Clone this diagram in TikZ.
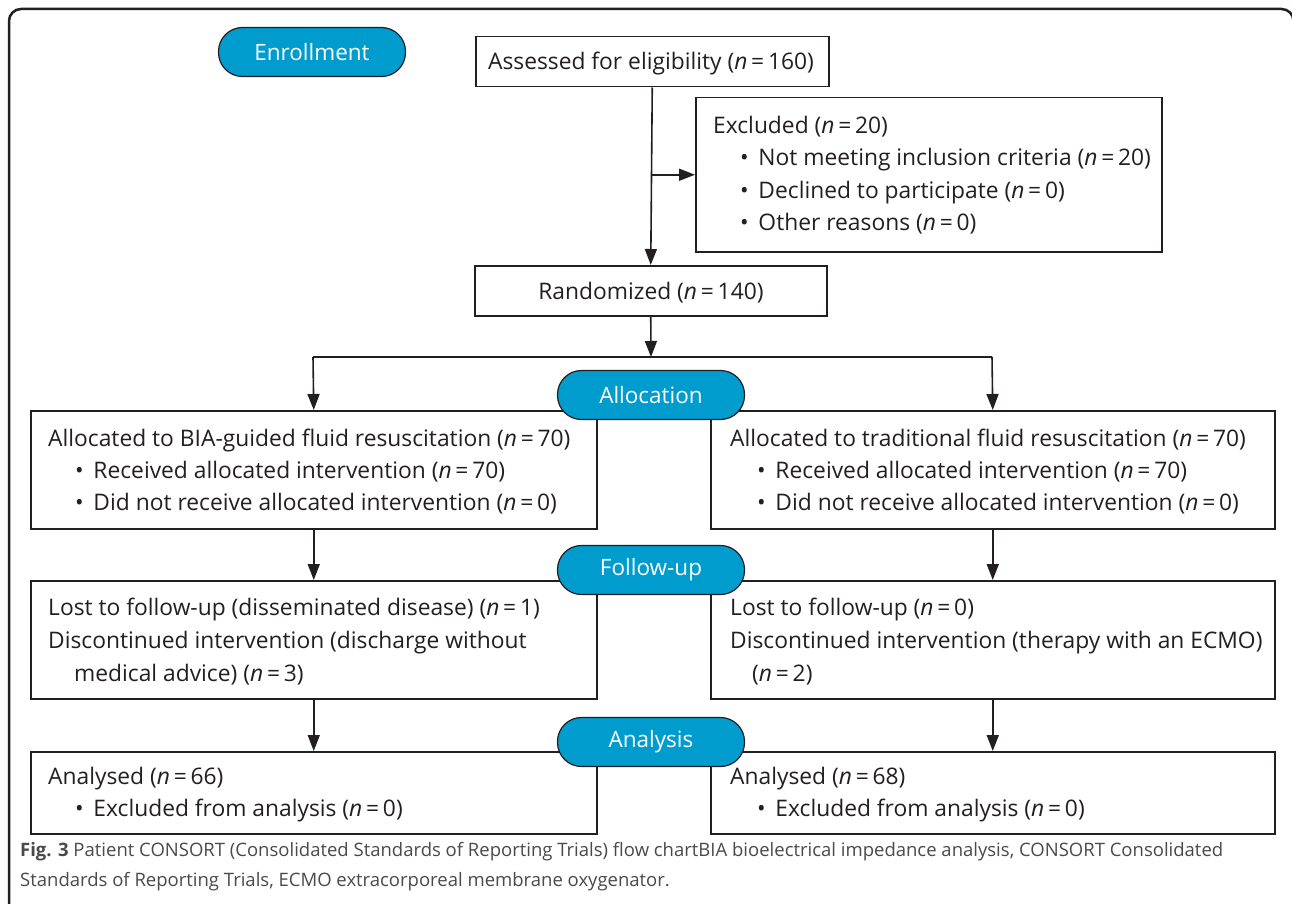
\documentclass[tikz,border=0pt]{standalone}
\usepackage{fontspec}
\setmainfont{Open Sans}
\usetikzlibrary{arrows.meta,calc}
\definecolor{ln}{HTML}{231F20}
\definecolor{pillc}{HTML}{009CCE}
\definecolor{capc}{HTML}{4A4A4A}
\begin{document}
\begin{tikzpicture}[x=1pt,y=-1pt,
  box/.style={draw=ln, line width=1.5pt, inner sep=0pt, anchor=north west},
  txt/.style={anchor=base west, inner sep=0pt, text=ln, font=\fontsize{22.8}{26}\selectfont},
  pillbox/.style={draw=ln, line width=1.2pt, fill=pillc, rounded corners=24pt,
    minimum width=187pt, minimum height=49pt, inner sep=0pt, text=white,
    font=\fontsize{22.5}{26}\selectfont},
  arr/.style={draw=ln, line width=1.6pt, -{Triangle[length=16pt,width=12pt]}},
  conn/.style={draw=ln, line width=1.6pt},
  captxt/.style={anchor=base west, inner sep=0pt, text=capc, font=\fontsize{18.5}{24}\selectfont}]
\useasboundingbox (0,0) rectangle (1292,904);
\clip (0,0) rectangle (1292,904);
\fill[white] (0,0) rectangle (1292,904);
% outer frame
\draw[ln, line width=2.5pt, rounded corners=12pt] (9,9) rectangle (1293.5,940);

% boxes
\node[box, minimum width=353pt, minimum height=50pt] (assess) at (475,36) {};
\node[box, minimum width=466pt, minimum height=154pt] (excl) at (695,97) {};
\node[box, minimum width=352pt, minimum height=50pt] (rand) at (474,265) {};
\node[box, minimum width=566pt, minimum height=118pt] (a1) at (30,410) {};
\node[box, minimum width=564pt, minimum height=118pt] (a2) at (710,410) {};
\node[box, minimum width=566pt, minimum height=118pt] (f1) at (30,580) {};
\node[box, minimum width=564pt, minimum height=118pt] (f2) at (710,580) {};
\node[box, minimum width=566pt, minimum height=82pt] (n1) at (30,751) {};
\node[box, minimum width=564pt, minimum height=82pt] (n2) at (710,751) {};

% texts
\node[txt, anchor=base] (tassess) at (651,70) {Assessed for eligibility (\textit{n}\,=\,160)};
\node[txt] (tex0) at (713,134) {Excluded (\textit{n}\,=\,20)};
\node[txt] (tex1) at (740,166) {•\, Not meeting inclusion criteria (\textit{n}\,=\,20)};
\node[txt] (tex2) at (740,198) {•\, Declined to participate (\textit{n}\,=\,0)};
\node[txt] (tex3) at (740,230) {•\, Other reasons (\textit{n}\,=\,0)};
\node[txt, anchor=base] (trand) at (651,299) {Randomized (\textit{n}\,=\,140)};

\node[txt] (ta10) at (48,446) {Allocated to BIA-guided fluid resuscitation (\textit{n}\,=\,70)};
\node[txt] (ta11) at (75,478) {•\, Received allocated intervention (\textit{n}\,=\,70)};
\node[txt] (ta12) at (75,510) {•\, Did not receive allocated intervention (\textit{n}\,=\,0)};
\node[txt] (ta20) at (730,446) {Allocated to traditional fluid resuscitation (\textit{n}\,=\,70)};
\node[txt] (ta21) at (757,478) {•\, Received allocated intervention (\textit{n}\,=\,70)};
\node[txt] (ta22) at (757,510) {•\, Did not receive allocated intervention (\textit{n}\,=\,0)};

\node[txt] (tf10) at (48,615) {Lost to follow-up (disseminated disease) (\textit{n}\,=\,1)};
\node[txt] (tf11) at (48,648) {Discontinued intervention (discharge without};
\node[txt] (tf12) at (74,681) {medical advice) (\textit{n}\,=\,3)};
\node[txt] (tf20) at (730,615) {Lost to follow-up (\textit{n}\,=\,0)};
\node[txt] (tf21) at (730,648) {Discontinued intervention (therapy with an ECMO)};
\node[txt] (tf22) at (752,681) {(\textit{n}\,=\,2)};

\node[txt] (tn10) at (48,784) {Analysed (\textit{n}\,=\,66)};
\node[txt] (tn11) at (75,816) {•\, Excluded from analysis (\textit{n}\,=\,0)};
\node[txt] (tn20) at (730,784) {Analysed (\textit{n}\,=\,68)};
\node[txt] (tn21) at (757,816) {•\, Excluded from analysis (\textit{n}\,=\,0)};

% connectors
\coordinate (split) at (651,357);
\coordinate (hl) at (313,357);
\coordinate (hr) at (992,357);
\draw[arr] (assess.south) -- (rand.north);
\draw[arr] (assess.south |- excl.west) -- (excl.west);
\draw[arr] (rand.south) -- (split);
\draw[conn] (hl) -- (hr);
\draw[arr] (hl) -- (a1.north);
\draw[arr] (hr) -- (a2.north);
\draw[arr] (a1.south) -- (f1.north);
\draw[arr] (a2.south) -- (f2.north);
\draw[arr] (f1.south) -- (n1.north);
\draw[arr] (f2.south) -- (n2.north);

% stage pills
\node[pillbox] (enroll) at (312,52) {Enrollment};
\node[pillbox] (alloc) at (651,395) {Allocation};
\node[pillbox] (follow) at (651,570) {Follow-up};
\node[pillbox] (anal) at (651,742) {Analysis};

% caption
\node[captxt] (cap1) at (20,856) {\textbf{Fig. 3} Patient CONSORT (Consolidated Standards of Reporting Trials) flow chartBIA bioelectrical impedance analysis, CONSORT Consolidated};
\node[captxt] (cap2) at (20,886) {Standards of Reporting Trials, ECMO extracorporeal membrane oxygenator.};
\end{tikzpicture}
\end{document}
